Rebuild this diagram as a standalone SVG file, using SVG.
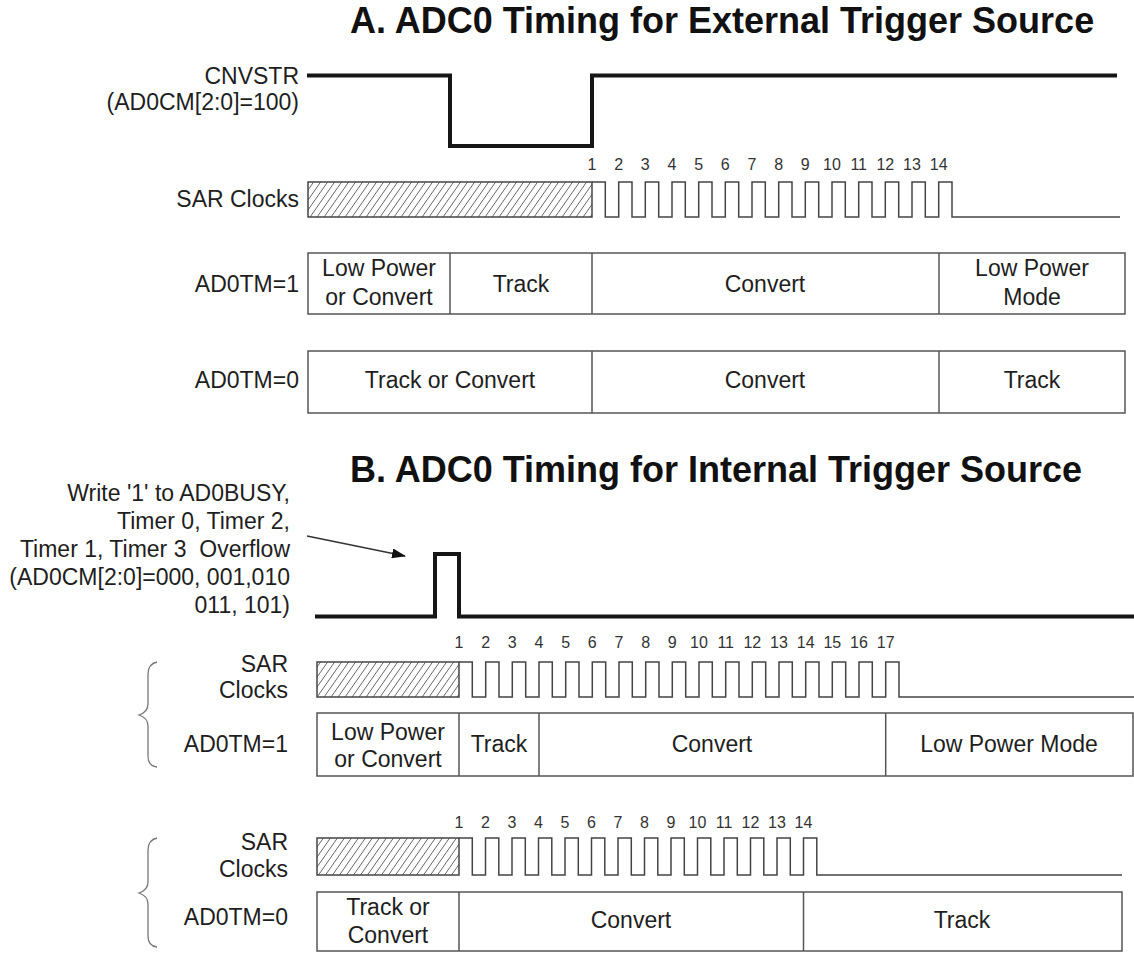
<svg xmlns="http://www.w3.org/2000/svg" width="1134" height="954" viewBox="0 0 1134 954">
<defs>
<pattern id="hatch" patternUnits="userSpaceOnUse" width="7" height="10">
<line x1="0" y1="10" x2="7" y2="0" stroke="#555" stroke-width="0.9"/>
<line x1="-7" y1="10" x2="0" y2="0" stroke="#555" stroke-width="0.9"/>
<line x1="7" y1="10" x2="14" y2="0" stroke="#555" stroke-width="0.9"/>
</pattern>
<marker id="arr" markerWidth="14" markerHeight="10" refX="13" refY="5" orient="auto" markerUnits="userSpaceOnUse">
<path d="M0,0 L14,5 L0,10 Z" fill="#111"/>
</marker>
</defs>
<style>
text{font-family:"Liberation Sans",Arial,sans-serif;fill:#1e1e1e}
.t{font-size:36px;font-weight:bold;fill:#111}
.l{font-size:23px}
.r{text-anchor:end}
.m{text-anchor:middle}
.n{font-size:16px;text-anchor:middle;fill:#333}
.thick{fill:none;stroke:#161616;stroke-width:4;stroke-linejoin:miter}
.clk{fill:none;stroke:#444;stroke-width:1.5}
.box{fill:none;stroke:#555;stroke-width:1.5}
.hat{fill:url(#hatch);stroke:#444;stroke-width:1.5}
.brace{fill:none;stroke:#777;stroke-width:1.3}
</style>

<g id="titleA"><text class="t" x="350" y="33">A. ADC0 Timing for External Trigger Source</text></g>
<g id="titleB"><text class="t" x="350" y="482">B. ADC0 Timing for Internal Trigger Source</text></g>

<g id="labelsA">
<text class="l r" x="299" y="84">CNVSTR</text>
<text class="l r" x="299" y="110">(AD0CM[2:0]=100)</text>
<text class="l r" x="299" y="207">SAR Clocks</text>
<text class="l r" x="299" y="292">AD0TM=1</text>
<text class="l r" x="299" y="388">AD0TM=0</text>
</g>

<g id="cnvstr"><path class="thick" d="M307,75.5 H450 V146 H592 V75.5 H1117"/></g>

<g id="sarA">
<rect class="hat" x="308" y="182" width="284" height="35"/>
<path class="clk" d="M592,182 H605.3 V217 H618.7 V182 H632 V217 H645.3 V182 H658.7 V217 H672 V182 H685.3 V217 H698.7 V182 H712 V217 H725.3 V182 H738.7 V217 H752 V182 H765.3 V217 H778.7 V182 H792 V217 H805.3 V182 H818.7 V217 H832 V182 H845.3 V217 H858.7 V182 H872 V217 H885.3 V182 H898.7 V217 H912 V182 H925.3 V217 H938.7 V182 H952 V217 H1120"/>
<text class="n" x="592" y="170">1</text><text class="n" x="618.7" y="170">2</text><text class="n" x="645.3" y="170">3</text><text class="n" x="672" y="170">4</text><text class="n" x="698.7" y="170">5</text><text class="n" x="725.3" y="170">6</text><text class="n" x="752" y="170">7</text><text class="n" x="778.7" y="170">8</text><text class="n" x="805.3" y="170">9</text><text class="n" x="832" y="170">10</text><text class="n" x="858.7" y="170">11</text><text class="n" x="885.3" y="170">12</text><text class="n" x="912" y="170">13</text><text class="n" x="938.7" y="170">14</text>
</g>

<g id="boxA1">
<rect class="box" x="308" y="253" width="817" height="61"/>
<line class="box" x1="450" y1="253" x2="450" y2="314"/>
<line class="box" x1="592" y1="253" x2="592" y2="314"/>
<line class="box" x1="939" y1="253" x2="939" y2="314"/>
<text class="l m" x="379" y="276">Low Power</text>
<text class="l m" x="379" y="305">or Convert</text>
<text class="l m" x="521" y="292">Track</text>
<text class="l m" x="765" y="292">Convert</text>
<text class="l m" x="1032" y="276">Low Power</text>
<text class="l m" x="1032" y="305">Mode</text>
</g>

<g id="boxA0">
<rect class="box" x="308" y="351" width="817" height="62"/>
<line class="box" x1="592" y1="351" x2="592" y2="413"/>
<line class="box" x1="939" y1="351" x2="939" y2="413"/>
<text class="l m" x="450" y="388">Track or Convert</text>
<text class="l m" x="765" y="388">Convert</text>
<text class="l m" x="1032" y="388">Track</text>
</g>

<g id="triggerText">
<text class="l r" x="290" y="501">Write '1' to AD0BUSY,</text>
<text class="l r" x="290" y="529">Timer 0, Timer 2,</text>
<text class="l r" x="290" y="557">Timer 1, Timer 3&#160; Overflow</text>
<text class="l r" x="290" y="585">(AD0CM[2:0]=000, 001,010</text>
<text class="l r" x="290" y="613">011, 101)</text>
</g>

<g id="connectors">
<line x1="307" y1="536" x2="405" y2="556" stroke="#333" stroke-width="1.3" marker-end="url(#arr)"/>
</g>

<g id="pulse"><path class="thick" d="M315,616.5 H435 V554 H459 V616.5 H1134"/></g>

<g id="labelsB1">
<text class="l r" x="288" y="672">SAR</text>
<text class="l r" x="288" y="698">Clocks</text>
<text class="l r" x="288" y="752">AD0TM=1</text>
<path class="brace" d="M157,662 Q148,664 148,674 V704 Q148,712 139,715 Q148,718 148,726 V756 Q148,766 157,767"/>
</g>

<g id="sarB1">
<rect class="hat" x="317" y="662" width="142" height="35"/>
<path class="clk" d="M459,662 H472.3 V697 H485.7 V662 H499 V697 H512.3 V662 H525.7 V697 H539 V662 H552.3 V697 H565.7 V662 H579 V697 H592.3 V662 H605.7 V697 H619 V662 H632.3 V697 H645.7 V662 H659 V697 H672.3 V662 H685.7 V697 H699 V662 H712.3 V697 H725.7 V662 H739 V697 H752.3 V662 H765.7 V697 H779 V662 H792.3 V697 H805.7 V662 H819 V697 H832.3 V662 H845.7 V697 H859 V662 H872.3 V697 H885.7 V662 H899 V697 H1134"/>
<text class="n" x="459" y="648">1</text><text class="n" x="485.7" y="648">2</text><text class="n" x="512.3" y="648">3</text><text class="n" x="539" y="648">4</text><text class="n" x="565.7" y="648">5</text><text class="n" x="592.3" y="648">6</text><text class="n" x="619" y="648">7</text><text class="n" x="645.7" y="648">8</text><text class="n" x="672.3" y="648">9</text><text class="n" x="699" y="648">10</text><text class="n" x="725.7" y="648">11</text><text class="n" x="752.3" y="648">12</text><text class="n" x="779" y="648">13</text><text class="n" x="805.7" y="648">14</text><text class="n" x="832.3" y="648">15</text><text class="n" x="859" y="648">16</text><text class="n" x="885.7" y="648">17</text>
</g>

<g id="boxB1">
<rect class="box" x="317" y="713" width="816" height="63"/>
<line class="box" x1="459" y1="713" x2="459" y2="776"/>
<line class="box" x1="539" y1="713" x2="539" y2="776"/>
<line class="box" x1="885.7" y1="713" x2="885.7" y2="776"/>
<text class="l m" x="388" y="740">Low Power</text>
<text class="l m" x="388" y="767">or Convert</text>
<text class="l m" x="499" y="752">Track</text>
<text class="l m" x="712" y="752">Convert</text>
<text class="l m" x="1009" y="752">Low Power Mode</text>
</g>

<g id="labelsB2">
<text class="l r" x="288" y="850">SAR</text>
<text class="l r" x="288" y="877">Clocks</text>
<text class="l r" x="288" y="925">AD0TM=0</text>
<path class="brace" d="M157,838 Q148,840 148,850 V882 Q148,890 139,893 Q148,896 148,904 V936 Q148,946 157,947"/>
</g>

<g id="sarB2">
<rect class="hat" x="317" y="838" width="142" height="37"/>
<path class="clk" d="M459,838 H472.3 V875 H485.5 V838 H498.8 V875 H512 V838 H525.3 V875 H538.5 V838 H551.8 V875 H565 V838 H578.3 V875 H591.5 V838 H604.8 V875 H618 V838 H631.3 V875 H644.5 V838 H657.8 V875 H671 V838 H684.3 V875 H697.5 V838 H710.8 V875 H724 V838 H737.3 V875 H750.5 V838 H763.8 V875 H777 V838 H790.3 V875 H803.5 V838 H816.8 V875 H1122"/>
<text class="n" x="459" y="828">1</text><text class="n" x="485.5" y="828">2</text><text class="n" x="512" y="828">3</text><text class="n" x="538.5" y="828">4</text><text class="n" x="565" y="828">5</text><text class="n" x="591.5" y="828">6</text><text class="n" x="618" y="828">7</text><text class="n" x="644.5" y="828">8</text><text class="n" x="671" y="828">9</text><text class="n" x="697.5" y="828">10</text><text class="n" x="724" y="828">11</text><text class="n" x="750.5" y="828">12</text><text class="n" x="777" y="828">13</text><text class="n" x="803.5" y="828">14</text>
</g>

<g id="boxB2">
<rect class="box" x="317" y="892" width="805" height="59"/>
<line class="box" x1="459" y1="892" x2="459" y2="951"/>
<line class="box" x1="803.5" y1="892" x2="803.5" y2="951"/>
<text class="l m" x="388" y="915">Track or</text>
<text class="l m" x="388" y="943">Convert</text>
<text class="l m" x="631" y="928">Convert</text>
<text class="l m" x="962" y="928">Track</text>
</g>
</svg>
